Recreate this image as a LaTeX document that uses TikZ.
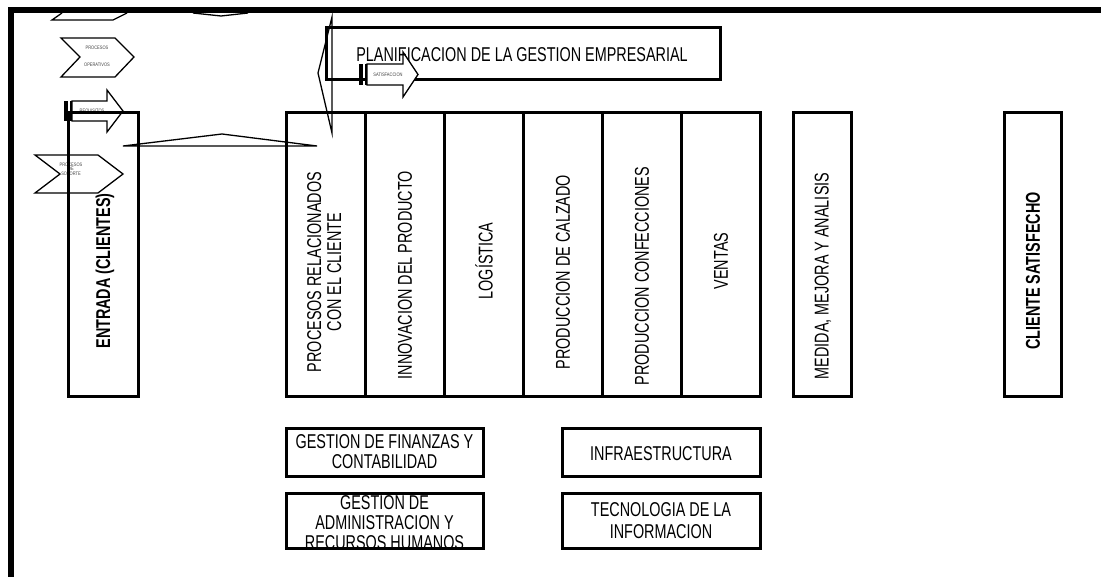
\documentclass[tikz,border=0pt]{standalone}
\usepackage{fontspec}
\setmainfont{Liberation Sans}
\usepackage{graphicx}
\newcommand{\nrw}[1]{\scalebox{0.72}[1]{#1}}
\newcommand{\tnrw}[1]{\scalebox{0.8}[1]{#1}}
\tikzset{
  box/.style={draw, line width=3pt, inner sep=0pt, outer sep=0pt},
  lbl/.style={font=\fontsize{20}{20}\selectfont, inner sep=0pt, outer sep=0pt, align=center},
  vlbl/.style={lbl, rotate=90},
  thinline/.style={line width=1.3pt},
  tinytxt/.style={font=\fontsize{5}{5.5}\selectfont, inner sep=0pt, align=center, text=black!75},
  frame/.style={line width=6pt},
}
\begin{document}
\begin{tikzpicture}[x=1pt, y=-1pt]
\fill[white] (0,0) rectangle (1101,577);
\useasboundingbox (0,0) rectangle (1101,577);

% partial shapes hidden behind the top frame line
\draw[thinline] (62,13) -- (52,20) -- (113,20) -- (127,13);
\draw[thinline] (193,13) -- (221,16) -- (248,13);

% frame
\draw[frame] (11,577) -- (11,10) -- (1101,10);

% chevron: procesos operativos
\draw[thinline, fill=white] (61,38) -- (115,38) -- (134,57) -- (115,77) -- (61,77) -- (80,57) -- cycle;
\node[tinytxt] (opA) at (97,48) {\tnrw{PROCESOS}};
\node[tinytxt] (opB) at (97,65) {\tnrw{OPERATIVOS}};

% striped arrow: requisitos
\fill (64,101) rectangle (68,121);
\fill (69.5,101) rectangle (71.5,121);
\draw[thinline, fill=white] (72,101) -- (107,101) -- (107,90) -- (123,111) -- (107,132) -- (107,121) -- (72,121) -- cycle;
\node[tinytxt] (req) at (92,111) {\tnrw{REQUISITOS}};

% chevron: procesos de soporte
\draw[thinline, fill=white] (35,155) -- (98,155) -- (123,174) -- (98,193) -- (35,193) -- (60,174) -- cycle;
\node[tinytxt, font=\fontsize{5}{4.8}\selectfont] (sop) at (71,170) {\tnrw{\begin{tabular}{@{}c@{}}PROCESOS\\DE\\SOPORTE\end{tabular}}};

% flat triangles
\draw[thinline] (123,146) -- (222,134) -- (317,146) -- cycle;
\draw[thinline] (332,17) -- (318,73) -- (332,133) -- cycle;

% entrada
\node[box, minimum width=70pt, minimum height=284pt] (entrada) at (103,255) {};
\node[vlbl] (entradat) at (105,271) {\nrw{\bfseries ENTRADA (CLIENTES)}};

% planificacion
\node[box, minimum width=394pt, minimum height=52pt] (plan) at (523,54) {};
\fill (359,64) rectangle (363,85);
\fill (364.5,64) rectangle (366.5,85);
\draw[thinline, fill=white] (367,64) -- (403,64) -- (403,52) -- (418,74.5) -- (403,97) -- (403,85) -- (367,85) -- cycle;
\node[tinytxt] (sat) at (388,75) {\tnrw{SATISFACCION}};
\node[lbl] (plant) at (522,55) {\nrw{PLANIFICACION DE LA GESTION EMPRESARIAL}};

% process columns
\node[box, minimum width=79pt, minimum height=284pt] (c1) at (325.5,255) {};
\node[box, minimum width=79pt, minimum height=284pt] (c2) at (404.5,255) {};
\node[box, minimum width=79pt, minimum height=284pt] (c3) at (483.5,255) {};
\node[box, minimum width=79pt, minimum height=284pt] (c4) at (562.5,255) {};
\node[box, minimum width=79pt, minimum height=284pt] (c5) at (641.5,255) {};
\node[box, minimum width=79pt, minimum height=284pt] (c6) at (720.5,255) {};
\node[vlbl] (c1t) at (327,272) {\nrw{\begin{tabular}{@{}c@{}}PROCESOS RELACIONADOS\\CON EL CLIENTE\end{tabular}}};
\node[vlbl] (c2t) at (405,275) {\nrw{INNOVACION DEL PRODUCTO}};
\node[vlbl] (c3t) at (484,261) {\nrw{LOGÍSTICA}};
\node[vlbl] (c4t) at (563,272) {\nrw{PRODUCCION DE CALZADO}};
\node[vlbl] (c5t) at (642,276) {\nrw{PRODUCCION CONFECCIONES}};
\node[vlbl] (c6t) at (721,261) {\nrw{VENTAS}};

% medida
\node[box, minimum width=58pt, minimum height=284pt] (medida) at (822,255) {};
\node[vlbl] (medidat) at (823,276) {\nrw{MEDIDA, MEJORA Y ANALISIS}};

% cliente satisfecho
\node[box, minimum width=57pt, minimum height=284pt] (cliente) at (1032.5,255) {};
\node[vlbl] (clientet) at (1033,271) {\nrw{\bfseries CLIENTE SATISFECHO}};

% support boxes
\node[box, minimum width=197pt, minimum height=48pt] (fin) at (384.5,452) {};
\node[lbl] (fint) at (384.5,454) {\nrw{\begin{tabular}{@{}c@{}}GESTION DE FINANZAS Y\\CONTABILIDAD\end{tabular}}};

\begin{scope}
\clip (286,493) rectangle (483,546);
\node[lbl] (admt) at (384.5,525.5) {\nrw{\begin{tabular}{@{}c@{}}GESTION DE\\ADMINISTRACION Y\\RECURSOS HUMANOS\end{tabular}}};
\end{scope}
\node[box, minimum width=197pt, minimum height=55pt] (adm) at (384.5,520.5) {};

\node[box, minimum width=198pt, minimum height=48pt] (infra) at (661,452) {};
\node[lbl] (infrat) at (661,454) {\nrw{INFRAESTRUCTURA}};

\node[box, minimum width=198pt, minimum height=55pt] (tec) at (661,520.5) {};
\node[lbl, font=\fontsize{20}{21.5}\selectfont] (tect) at (661,523) {\nrw{\begin{tabular}{@{}c@{}}TECNOLOGIA DE LA\\INFORMACION\end{tabular}}};
\end{tikzpicture}
\end{document}
